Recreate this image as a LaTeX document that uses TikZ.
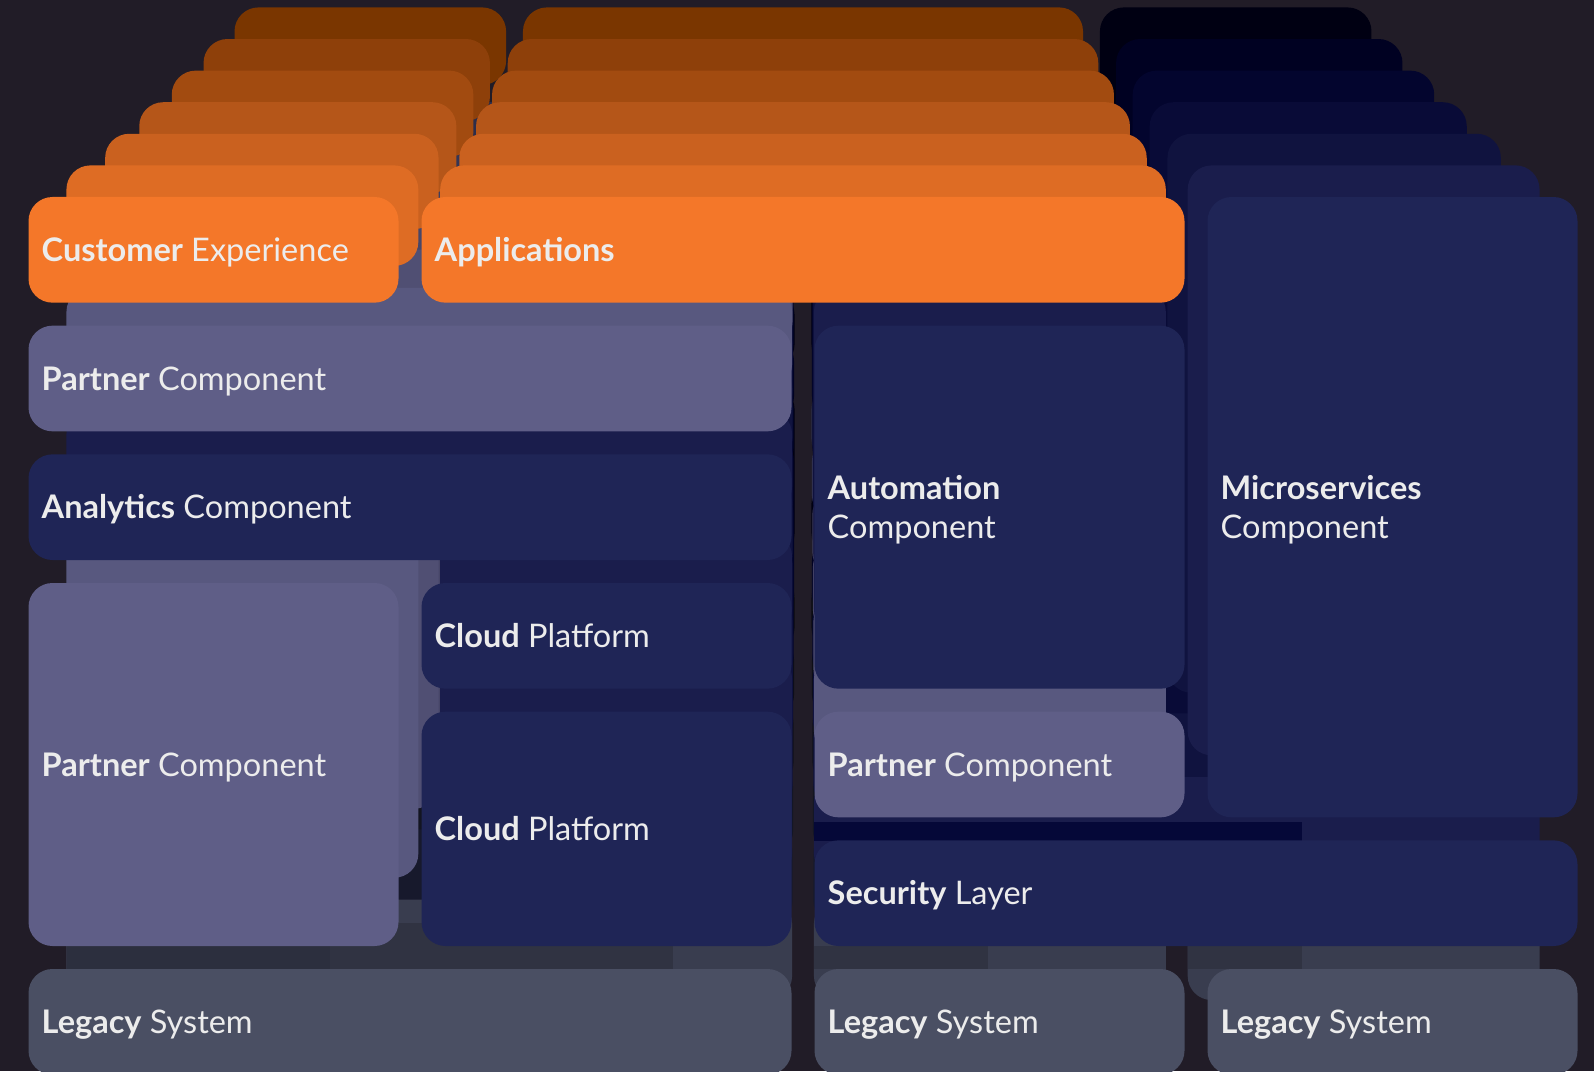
\documentclass[tikz,border=0pt]{standalone}
\usepackage{fontspec}
\setmainfont{Lato}
\definecolor{bg}{HTML}{211C27}
\definecolor{txt}{HTML}{ECECEC}
\definecolor{cO0}{HTML}{F47729}\definecolor{cO1}{HTML}{DE6C24}\definecolor{cO2}{HTML}{CA611F}
\definecolor{cO3}{HTML}{B55619}\definecolor{cO4}{HTML}{A24B10}\definecolor{cO5}{HTML}{8E400A}\definecolor{cO6}{HTML}{7A3600}
\definecolor{cN0}{HTML}{1F2556}\definecolor{cN1}{HTML}{1A1D4C}\definecolor{cN2}{HTML}{10133F}
\definecolor{cN3}{HTML}{090B37}\definecolor{cN4}{HTML}{03052E}\definecolor{cN5}{HTML}{000122}\definecolor{cN6}{HTML}{000012}
\definecolor{cP0}{HTML}{5F5E87}\definecolor{cP1}{HTML}{58587F}\definecolor{cP2}{HTML}{504F73}
\definecolor{cP3}{HTML}{474668}\definecolor{cP4}{HTML}{3E3D5E}\definecolor{cP5}{HTML}{353554}\definecolor{cP6}{HTML}{2D2D4A}
\definecolor{cG0}{HTML}{4A4F63}\definecolor{cG1}{HTML}{393D4F}\definecolor{cG2}{HTML}{17192C}
\definecolor{cG3}{HTML}{131521}\definecolor{cG4}{HTML}{10111B}\definecolor{cG5}{HTML}{0D0E16}\definecolor{cG6}{HTML}{0A0B11}
\definecolor{shdG}{HTML}{2C2F3E}\definecolor{shdGb}{HTML}{303342}\definecolor{shdN}{HTML}{050838}
\tikzset{
  fb/.style={rectangle, rounded corners=24pt, inner sep=0pt, outer sep=0pt},
  lbl/.style={text=txt, font=\fontsize{32.5}{39}\selectfont, inner sep=0pt, anchor=base west},
}
\begin{document}
\begin{tikzpicture}[x=1pt,y=-1pt]
\clip (0,0) rectangle (1594,1071);
\fill[bg] (0,0) rectangle (1594,1071);
% receding copies of every box, back to front
\foreach \k/\s in {6/0.734,5/0.774,4/0.815,3/0.857,2/0.901,1/0.951}{
  \begin{scope}[shift={({803*(1-\s)},{197*(1-\s)-31.6*\k})}, scale=\s]
    \foreach \xa/\ya/\xb/\yb/\cc in {
      28.5/197/398.5/302.67/O, 421.5/197/1184.5/302.67/O,
      28.5/325.67/791.5/431.33/P, 28.5/454.33/791.5/560/N,
      28.5/583/398.5/946/P, 421.5/583/791.5/688.67/N, 421.5/711.67/791.5/946/N,
      814.5/325.67/1184.5/688.67/N, 1207.5/197/1577.5/817.33/N,
      814.5/711.67/1184.5/817.33/P, 814.5/840.33/1577.5/946/N,
      28.5/969/791.5/1074.67/G, 814.5/969/1184.5/1074.67/G, 1207.5/969/1577.5/1074.67/G}{
      \fill[fill=c\cc\k, rounded corners=24pt] (\xa,\ya) rectangle (\xb,\yb);
    }
  \end{scope}
}
% darker bands seen in some gaps
\fill[shdG] (67,923) rectangle (330,969);
\fill[shdGb] (330,923) rectangle (673,969);
\fill[shdGb] (813.5,946) rectangle (988,969);
\fill[shdGb] (1187.7,946) rectangle (1302,969);
\fill[shdN] (813.5,822) rectangle (1302,841);
% front boxes
\node[fb, fill=cO0, minimum width=370pt, minimum height=105.67pt] (ce) at (213.5,249.83) {};
\node[fb, fill=cO0, minimum width=763pt, minimum height=105.67pt] (app) at (803,249.83) {};
\node[fb, fill=cP0, minimum width=763pt, minimum height=105.67pt] (pt) at (410,378.5) {};
\node[fb, fill=cN0, minimum width=763pt, minimum height=105.67pt] (an) at (410,507.17) {};
\node[fb, fill=cP0, minimum width=370pt, minimum height=363pt] (pl) at (213.5,764.5) {};
\node[fb, fill=cN0, minimum width=370pt, minimum height=105.67pt] (cl1) at (606.5,635.83) {};
\node[fb, fill=cN0, minimum width=370pt, minimum height=234.33pt] (cl2) at (606.5,828.83) {};
\node[fb, fill=cN0, minimum width=370pt, minimum height=363pt] (au) at (999.5,507.17) {};
\node[fb, fill=cN0, minimum width=370pt, minimum height=620.33pt] (ms) at (1392.5,507.17) {};
\node[fb, fill=cP0, minimum width=370pt, minimum height=105.67pt] (pr) at (999.5,764.5) {};
\node[fb, fill=cN0, minimum width=763pt, minimum height=105.67pt] (se) at (1196,893.17) {};
\node[fb, fill=cG0, minimum width=763pt, minimum height=105.67pt] (lg1) at (410,1021.83) {};
\node[fb, fill=cG0, minimum width=370pt, minimum height=105.67pt] (lg2) at (999.5,1021.83) {};
\node[fb, fill=cG0, minimum width=370pt, minimum height=105.67pt] (lg3) at (1392.5,1021.83) {};
% labels
\node[lbl] (ce-t) at ([xshift=13pt,yshift=-11.7pt]ce.west) {\textbf{Customer} Experience};
\node[lbl] (app-t) at ([xshift=13pt,yshift=-11.7pt]app.west) {\textbf{Applications}};
\node[lbl] (pt-t) at ([xshift=13pt,yshift=-11.7pt]pt.west) {\textbf{Partner} Component};
\node[lbl] (an-t) at ([xshift=13pt,yshift=-11.7pt]an.west) {\textbf{Analytics} Component};
\node[lbl] (pl-t) at ([xshift=13pt,yshift=-11.7pt]pl.west) {\textbf{Partner} Component};
\node[lbl] (cl1-t) at ([xshift=13pt,yshift=-11.7pt]cl1.west) {\textbf{Cloud} Platform};
\node[lbl] (cl2-t) at ([xshift=13pt,yshift=-11.7pt]cl2.west) {\textbf{Cloud} Platform};
\node[lbl] (au-t1) at ([xshift=13pt,yshift=7.6pt]au.west) {\textbf{Automation}};
\node[lbl] (au-t2) at ([xshift=13pt,yshift=-31pt]au.west) {Component};
\node[lbl] (ms-t1) at ([xshift=13pt,yshift=7.6pt]ms.west) {\textbf{Microservices}};
\node[lbl] (ms-t2) at ([xshift=13pt,yshift=-31pt]ms.west) {Component};
\node[lbl] (pr-t) at ([xshift=13pt,yshift=-11.7pt]pr.west) {\textbf{Partner} Component};
\node[lbl] (se-t) at ([xshift=13pt,yshift=-11.7pt]se.west) {\textbf{Security} Layer};
\node[lbl] (lg1-t) at ([xshift=13pt,yshift=-11.7pt]lg1.west) {\textbf{Legacy} System};
\node[lbl] (lg2-t) at ([xshift=13pt,yshift=-11.7pt]lg2.west) {\textbf{Legacy} System};
\node[lbl] (lg3-t) at ([xshift=13pt,yshift=-11.7pt]lg3.west) {\textbf{Legacy} System};
\end{tikzpicture}
\end{document}
